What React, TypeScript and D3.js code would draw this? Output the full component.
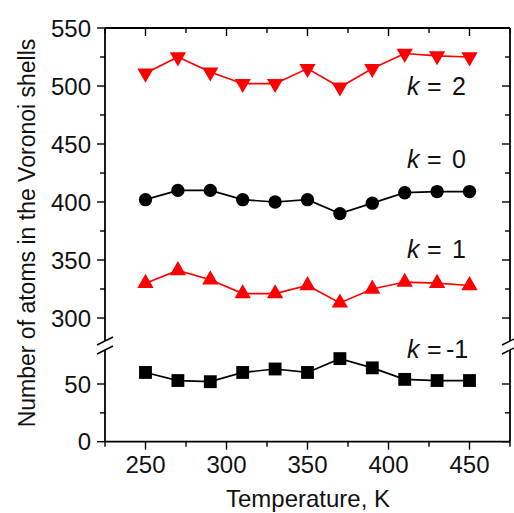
import React from "react";
import * as d3 from "d3";

const temps = [250, 270, 290, 310, 330, 350, 370, 390, 410, 430, 450];
const kPlus2 = [511, 525, 512, 502, 502, 515, 499, 515, 528, 526, 525];
const kZero = [402, 410, 410, 402, 400, 402, 390, 399, 408, 409, 409];
const kPlus1 = [330, 341, 333, 321, 321, 328, 313, 325, 331, 330, 328];
const kMinus1 = [60, 53, 52, 60, 63, 60, 72, 64, 54, 53, 53];

const xTicks = [250, 300, 350, 400, 450];
const xMinor = [225, 275, 325, 375, 425, 475];
const yUpTicks = [300, 350, 400, 450, 500, 550];
const yUpMinor = [325, 375, 425, 475, 525];
const yLoTicks = [0, 50];
const yLoMinor = [25];

const labels = [
  { k: "2", y: 95 },
  { k: "0", y: 168 },
  { k: "1", y: 258 },
  { k: "-1", y: 358 },
];

const L = 105, R = 510, T = 28, B = 441.7;
const x = d3.scaleLinear().domain([225, 475]).range([L, R]);
const yUp = d3.scaleLinear().domain([300, 550]).range([318, 28]);
const yLo = d3.scaleLinear().domain([0, 50]).range([441.7, 384]);

const font = "'Liberation Sans', Arial, sans-serif";

function Series({ vals, scale, color, marker }: any) {
  const line = d3.line<number>().x((_, i) => x(temps[i])).y((v) => scale(v));
  const sym =
    marker === "circle"
      ? d3.symbol(d3.symbolCircle, 140)
      : marker === "square"
      ? d3.symbol(d3.symbolSquare, 165)
      : d3.symbol(d3.symbolTriangle, 115);
  const rot = marker === "down" ? 180 : 0;
  return (
    <g>
      <path d={line(vals) || ""} fill="none" stroke={color} strokeWidth={1.7} />
      {vals.map((v: number, i: number) => (
        <path
          key={i}
          d={sym() || ""}
          transform={`translate(${x(temps[i])},${scale(v)}) rotate(${rot})`}
          fill={color}
        />
      ))}
    </g>
  );
}

export default function App() {
  const tickStroke = { stroke: "#000", strokeWidth: 1.4 };
  const breakYs = [341, 350];
  return (
    <svg
      width={514}
      height={513}
      style={{ position: "absolute", left: 0, top: 0, background: "#fff" }}
      fontFamily={font}
    >
      <rect x={0} y={0} width={514} height={513} fill="#fff" />
      {/* frame */}
      <line x1={L} x2={R} y1={T} y2={T} {...tickStroke} strokeWidth={1.8} />
      <line x1={L} x2={R} y1={B} y2={B} {...tickStroke} strokeWidth={1.8} />
      <line x1={L} x2={L} y1={T} y2={B} {...tickStroke} strokeWidth={1.8} />
      <line x1={R} x2={R} y1={T} y2={B} {...tickStroke} strokeWidth={1.8} />
      {/* x ticks */}
      {xTicks.map((t) => (
        <g key={"xt" + t}>
          <line x1={x(t)} x2={x(t)} y1={B} y2={B + 8} {...tickStroke} />
          <line x1={x(t)} x2={x(t)} y1={T} y2={T + 8} {...tickStroke} />
          <text x={x(t)} y={473} fontSize={24} textAnchor="middle" fill="#111">
            {t}
          </text>
        </g>
      ))}
      {xMinor.map((t) => (
        <g key={"xm" + t}>
          <line x1={x(t)} x2={x(t)} y1={B} y2={B + 5} {...tickStroke} />
          <line x1={x(t)} x2={x(t)} y1={T} y2={T + 5} {...tickStroke} />
        </g>
      ))}
      {/* y ticks */}
      {[...yUpTicks.map((t) => ({ t, y: yUp(t) })), ...yLoTicks.map((t) => ({ t, y: yLo(t) }))].map((d) => (
        <g key={"yt" + d.t}>
          <line x1={L - 8} x2={L} y1={d.y} y2={d.y} {...tickStroke} />
          <line x1={R - 8} x2={R} y1={d.y} y2={d.y} {...tickStroke} />
          <text x={91} y={d.y} dy="0.36em" fontSize={24} textAnchor="end" fill="#111">
            {d.t}
          </text>
        </g>
      ))}
      {[...yUpMinor.map((t) => yUp(t)), ...yLoMinor.map((t) => yLo(t))].map((yy, i) => (
        <g key={"ym" + i}>
          <line x1={L - 5} x2={L} y1={yy} y2={yy} {...tickStroke} />
          <line x1={R - 5} x2={R} y1={yy} y2={yy} {...tickStroke} />
        </g>
      ))}
      {/* breaks */}
      {[L, R].map((ax) => (
        <g key={"br" + ax}>
          <polygon
            points={`${ax - 8},${breakYs[0] + 4} ${ax + 8},${breakYs[0] - 4} ${ax + 8},${breakYs[1] - 4} ${ax - 8},${breakYs[1] + 4}`}
            fill="#fff"
          />
          {breakYs.map((by) => (
            <line key={by} x1={ax - 8} x2={ax + 8} y1={by + 4} y2={by - 4} stroke="#000" strokeWidth={1.4} />
          ))}
        </g>
      ))}
      {/* series */}
      <Series vals={kPlus2} scale={yUp} color="#ff0000" marker="down" />
      <Series vals={kZero} scale={yUp} color="#000" marker="circle" />
      <Series vals={kPlus1} scale={yUp} color="#ff0000" marker="up" />
      <Series vals={kMinus1} scale={yLo} color="#000" marker="square" />
      {/* k labels */}
      {labels.map((l) => (
        <text key={l.k} y={l.y} fontSize={25} fill="#111">
          <tspan x={407} fontStyle="italic">k</tspan>
          <tspan x={427}>=</tspan>
          <tspan x={l.k.length > 1 ? 446 : 452}>{l.k}</tspan>
        </text>
      ))}
      {/* axis titles */}
      <text x={308} y={507} fontSize={24} textAnchor="middle" fill="#111">
        Temperature, K
      </text>
      <text
        transform="translate(35,233) rotate(-90)"
        fontSize={23}
        textAnchor="middle"
        fill="#111"
      >
        Number of atoms in the Voronoi shells
      </text>
    </svg>
  );
}
